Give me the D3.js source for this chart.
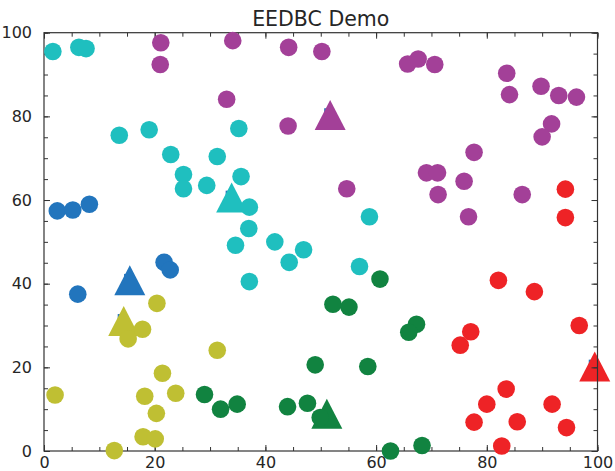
<!DOCTYPE html>
<html><head><meta charset="utf-8">
<script src="https://cdn.jsdelivr.net/npm/d3@7"></script>
<style>body{margin:0;background:#fff}svg{display:block}text{font-family:"DejaVu Sans",sans-serif;fill:#262626}</style>
</head><body><svg id="c" width="615" height="471"></svg>
<script>
const title = "EEDBC Demo";
const xTicks = [0, 20, 40, 60, 80, 100];
const yTicks = [0, 20, 40, 60, 80, 100];
const clusterNames = ["blue", "cyan", "purple", "yellow", "green", "red"];
const clusterColors = ["#2275bd", "#1fbfbf", "#a34098", "#bfbf33", "#118340", "#ee2326"];

const blueX = [2.4, 5.2, 8.2, 6.1, 21.7, 22.8];
const blueY = [57.4, 57.6, 59.0, 37.5, 45.1, 43.3];
const cyanX = [1.6, 6.3, 7.6, 13.6, 19.0, 22.9, 25.2, 25.2, 29.4, 31.3, 35.2, 35.6, 37.1, 37.0, 34.6, 37.1, 41.7, 44.3, 46.9, 57.0, 58.8];
const cyanY = [95.5, 96.5, 96.2, 75.5, 76.8, 70.9, 66.1, 62.7, 63.5, 70.4, 77.1, 65.6, 58.3, 53.2, 49.2, 40.5, 50.0, 45.1, 48.1, 44.1, 56.0];
const purpleX = [21.1, 21.0, 34.1, 33.0, 44.2, 44.1, 50.2, 65.7, 67.6, 70.6, 83.6, 84.1, 89.8, 93.0, 96.2, 91.7, 90.0, 77.7, 69.1, 71.1, 75.9, 54.7, 71.2, 86.4, 76.7];
const purpleY = [97.6, 92.4, 98.1, 84.1, 96.5, 77.7, 95.5, 92.5, 93.7, 92.4, 90.3, 85.2, 87.2, 85.0, 84.6, 78.2, 75.1, 71.4, 66.5, 66.5, 64.5, 62.7, 61.3, 61.3, 56.0];
const yellowX = [2.0, 20.4, 17.8, 15.2, 31.3, 21.4, 18.2, 23.8, 20.3, 17.9, 20.1, 12.7];
const yellowY = [13.4, 35.3, 29.1, 26.8, 24.1, 18.6, 13.1, 13.8, 9.0, 3.4, 2.9, 0.1];
const greenX = [60.7, 52.2, 55.1, 67.3, 65.9, 49.0, 58.5, 29.0, 31.9, 34.9, 44.0, 47.6, 49.9, 62.6, 68.3];
const greenY = [41.1, 35.1, 34.4, 30.3, 28.4, 20.6, 20.2, 13.5, 10.0, 11.2, 10.6, 11.4, 8.0, 0.0, 1.3];
const redX = [82.1, 88.6, 96.7, 77.1, 75.2, 83.5, 80.0, 91.8, 77.7, 85.5, 94.4, 82.7, 94.2, 94.2];
const redY = [40.8, 38.1, 30.0, 28.5, 25.3, 14.8, 11.2, 11.2, 6.9, 7.0, 5.6, 1.2, 62.6, 55.8];

// estimated cluster centres (triangles) and true centres (small blue squares)
const centerX = [15.5, 33.9, 51.7, 14.4, 51.1, 99.5];
const centerY = [40.8, 60.6, 80.3, 31.1, 8.9, 20.2];
const trueX = [15.1, 33.45, 51.25, 13.95, 51.1, 99.05];
const trueY = [41.5, 61.4, 81.1, 31.9, 8.4, 21.0];

const pointX = [blueX, cyanX, purpleX, yellowX, greenX, redX];
const pointY = [blueY, cyanY, purpleY, yellowY, greenY, redY];

const svg = d3.select("#c");
const L = 44, T = 32.7, W = 553.5, H = 418.3;
const x = d3.scaleLinear().domain([0, 100]).range([L, L + W]);
const y = d3.scaleLinear().domain([0, 100]).range([T + H, T]);

svg.append("text").attr("x", L + W / 2).attr("y", 26).attr("text-anchor", "middle")
  .style("font-size", "20.5px").text(title);

const triLayer = svg.append("g");
const sq = 7;
triLayer.selectAll("rect").data(trueX).join("rect")
  .attr("x", d => x(d) - sq / 2).attr("y", (d, i) => y(trueY[i]) - sq / 2)
  .attr("width", sq).attr("height", sq).attr("fill", "#2275bd");
triLayer.selectAll("path").data(centerX).join("path")
  .attr("d", (d, i) => {
    const cx = x(d), cy = y(centerY[i]);
    return `M${cx},${cy - 15}L${cx + 15.5},${cy + 15}L${cx - 15.5},${cy + 15}Z`;
  })
  .attr("fill", (d, i) => clusterColors[i]);

const minor = d3.range(0, 101, 5);
function styleAxis(g) {
  g.select(".domain").remove();
  g.selectAll(".tick line").attr("stroke", "#333").attr("stroke-width", 1);
  g.selectAll(".tick text").style("font-size", "16px").attr("fill", "#262626");
}
const fmt = d3.format("d");
svg.append("g").attr("transform", `translate(0,${T + H})`)
  .call(d3.axisBottom(x).tickValues(minor).tickSize(-4).tickFormat(""))
  .call(styleAxis);
svg.append("g").attr("transform", `translate(0,${T + H})`)
  .call(d3.axisBottom(x).tickValues(xTicks).tickSize(-6).tickPadding(12).tickFormat(fmt))
  .call(styleAxis).selectAll("text").attr("dy", "0.71em").attr("y", 6);
svg.append("g").attr("transform", `translate(${L},0)`)
  .call(d3.axisLeft(y).tickValues(minor).tickSize(-4).tickFormat(""))
  .call(styleAxis);
svg.append("g").attr("transform", `translate(${L},0)`)
  .call(d3.axisLeft(y).tickValues(yTicks).tickSize(-6).tickPadding(12).tickFormat(fmt))
  .call(styleAxis);
svg.append("g").attr("transform", `translate(0,${T})`)
  .call(d3.axisTop(x).tickValues(minor).tickSize(-4).tickFormat(""))
  .call(styleAxis);
svg.append("g").attr("transform", `translate(0,${T})`)
  .call(d3.axisTop(x).tickValues(xTicks).tickSize(-6).tickFormat(""))
  .call(styleAxis);
svg.append("g").attr("transform", `translate(${L + W},0)`)
  .call(d3.axisRight(y).tickValues(minor).tickSize(-4).tickFormat(""))
  .call(styleAxis);
svg.append("g").attr("transform", `translate(${L + W},0)`)
  .call(d3.axisRight(y).tickValues(yTicks).tickSize(-6).tickFormat(""))
  .call(styleAxis);
svg.append("rect").attr("x", L).attr("y", T).attr("width", W).attr("height", H)
  .attr("fill", "none").attr("stroke", "#333").attr("stroke-width", 1.2);

const pts = [];
pointX.forEach((xs, c) => xs.forEach((v, i) => pts.push({ x: v, y: pointY[c][i], c })));
svg.append("g").selectAll("circle").data(pts).join("circle")
  .attr("cx", d => x(d.x)).attr("cy", d => y(d.y)).attr("r", 8.8)
  .attr("fill", d => clusterColors[d.c]);
</script></body></html>
